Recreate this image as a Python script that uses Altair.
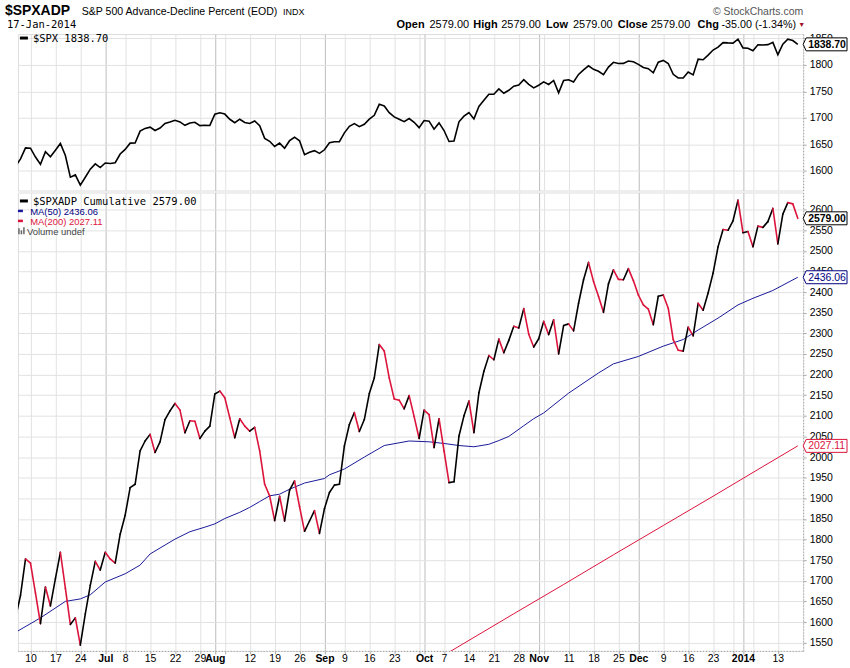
import altair as alt
import pandas as pd

# ---------------- data (trading-day index 0 = 5 Jun 2013 ... 157 = 17 Jan 2014) -------------
spx = [1608.90, 1622.56, 1643.38, 1642.81, 1626.13, 1612.52, 1636.36, 1626.73, 1639.04, 1651.81,
       1628.93, 1588.19, 1592.43, 1573.09, 1588.03, 1603.26, 1613.20, 1606.28,
       1614.96, 1614.08, 1615.41, 1631.89, 1640.46, 1652.32, 1652.62, 1675.02, 1680.19, 1682.50,
       1676.26, 1680.91, 1689.37, 1692.09, 1695.53, 1692.39, 1685.94, 1690.25, 1691.65, 1685.33,
       1685.96, 1685.73,
       1706.87, 1709.67, 1707.14, 1697.37, 1690.91, 1697.48, 1691.42, 1689.47, 1694.16, 1685.39,
       1661.32, 1655.83, 1646.06, 1652.35, 1642.80, 1656.96, 1663.50, 1656.78, 1630.48, 1634.96,
       1638.17, 1632.97,
       1639.77, 1653.08, 1655.08, 1655.17, 1671.71, 1683.99, 1689.13, 1683.42, 1687.99, 1697.60,
       1704.76, 1725.52, 1722.34, 1709.91, 1701.84, 1697.42, 1692.77, 1698.67, 1691.75, 1681.55,
       1695.00, 1693.87, 1678.66, 1690.50, 1676.12, 1655.45, 1656.40, 1692.56, 1703.20, 1710.14,
       1698.06, 1721.54, 1733.15, 1744.50, 1744.66, 1754.67, 1746.38, 1752.07, 1759.77, 1762.11,
       1771.95, 1763.31, 1756.54,
       1761.64, 1767.93, 1762.97, 1770.49, 1747.15, 1770.61, 1771.89, 1767.69, 1782.00, 1790.62,
       1798.18, 1791.53, 1787.87, 1781.37, 1795.85, 1804.76, 1802.48, 1802.75, 1807.23, 1805.81,
       1800.90, 1795.15, 1792.81, 1785.03, 1805.09, 1808.37, 1802.62, 1782.22, 1775.50, 1775.32,
       1786.54, 1781.00, 1810.65, 1809.60, 1818.32, 1827.99, 1833.32, 1842.02, 1841.40, 1841.07,
       1848.36,
       1831.98, 1831.37, 1826.77, 1837.88, 1837.49, 1838.13, 1842.37, 1819.20, 1838.88, 1848.38,
       1845.89, 1838.70]

adp = [1610, 1665, 1753, 1743, 1670, 1596, 1685, 1639, 1705, 1769,
       1682, 1594, 1610, 1544, 1620, 1689, 1747, 1726, 1769, 1753,
       1743, 1813, 1859, 1926, 1934, 2015, 2039, 2055, 2011, 2037,
       2091, 2112, 2130, 2114, 2059, 2088, 2087, 2045, 2063, 2075,
       2153, 2160, 2144, 2095, 2047, 2093, 2075, 2063, 2072, 2015,
       1934, 1906, 1846, 1905, 1845, 1920, 1942, 1880, 1820, 1845,
       1870, 1815, 1875, 1914, 1932, 1934, 2027, 2079, 2108, 2062,
       2091, 2154, 2192, 2273, 2257, 2192, 2141, 2138, 2117, 2149,
       2098, 2045, 2114, 2103, 2023, 2093, 2015, 1938, 1940, 2051,
       2100, 2136, 2059, 2156, 2208, 2246, 2236, 2286, 2253, 2283,
       2317, 2313, 2360, 2298, 2267, 2287, 2329, 2297, 2333, 2250,
       2319, 2323, 2306, 2373, 2430, 2472, 2426, 2390, 2351, 2420,
       2454, 2431, 2430, 2457, 2428, 2393, 2369, 2359, 2321, 2390,
       2393, 2361, 2285, 2259, 2257, 2315, 2294, 2373, 2356, 2398,
       2446, 2510, 2552, 2550, 2573, 2623, 2544, 2547, 2510, 2560,
       2557, 2571, 2603, 2517, 2589, 2617, 2614, 2579]

ma50_i = [0, 5, 10, 13, 15, 18, 22, 25, 27, 32, 35, 38, 40, 42, 45, 47, 49, 51, 53, 55, 58,
          62, 63, 66, 70, 74, 79, 83, 86, 89, 92, 95, 97, 99, 102, 104, 106, 111, 117, 120,
          125, 130, 134, 137, 141, 145, 148, 152, 157]
ma50_v = [1575, 1610, 1650, 1656, 1666, 1697, 1717, 1738, 1765, 1801, 1819, 1830, 1838, 1851,
          1866, 1878, 1892, 1906, 1910, 1922, 1937, 1948, 1957, 1971, 2000, 2028, 2039, 2037,
          2033, 2028, 2025, 2031, 2040, 2050, 2076, 2093, 2107, 2155, 2204, 2226, 2244, 2269,
          2285, 2308, 2337, 2369, 2385, 2404, 2436.06]

ma200_i = [80, 88, 100, 110, 120, 130, 140, 150, 157]
ma200_v = [1477, 1534, 1620, 1691, 1763, 1834, 1905, 1977, 2027.11]

tick_i = [3, 8, 13, 18, 22, 27, 32, 37, 40, 42, 47, 52, 57, 62, 66, 71, 76, 81, 82, 86, 91, 96,
          101, 105, 106, 111, 116, 121, 125, 130, 135, 140, 144, 146, 148, 153]
tick_lbl = ["10", "17", "24", "Jul", "8", "15", "22", "29", "Aug", "", "12", "19", "26", "Sep",
            "9", "16", "23", "", "Oct", "7", "14", "21", "28", "Nov", "", "11", "18", "25", "Dec",
            "9", "16", "23", "", "2014", "", "13"]
month_i = [18, 40, 62, 82, 105, 125, 146]

top_ticks = [1600, 1650, 1700, 1750, 1800, 1850]
bot_ticks = [1550, 1600, 1650, 1700, 1750, 1800, 1850, 1900, 1950, 2000, 2050, 2100, 2150,
             2200, 2250, 2300, 2350, 2400, 2450, 2500, 2550, 2600]

# ---------------- layout constants ----------------
W = 788
H1 = 157
H2 = 460
RED = "#dc143c"
NAVY = "#1a1a9a"
FONT = "Liberation Sans"
MONO = "DejaVu Sans Mono"

n = len(adp)
idx = list(range(n))
df_spx = pd.DataFrame({"i": idx, "v": spx})
seg = pd.DataFrame({"i0": idx[:-1], "v0": adp[:-1], "i1": idx[1:], "v1": adp[1:]})
seg["dir"] = ["up" if b >= a else "down" for a, b in zip(adp[:-1], adp[1:])]
df_ma50 = pd.DataFrame({"i": ma50_i, "v": ma50_v})
df_ma200 = pd.DataFrame({"i": ma200_i, "v": ma200_v})
one = pd.DataFrame({"a": [0]})

xs = alt.Scale(domain=[0.48, 158.08], nice=False, zero=False)
ys_top = alt.Scale(domain=[1563, 1858.1], nice=False, zero=False)
ys_bot = alt.Scale(domain=[1530, 2641.6], nice=False, zero=False)

month_test = f"indexof({month_i}, datum.value) >= 0"
grid_cond = {"condition": {"test": month_test, "value": "#bdbdbd"}, "value": "#e2e2e2"}
label_expr = (f"indexof({tick_i}, datum.value) >= 0 ? "
              f"{tick_lbl}[indexof({tick_i}, datum.value)] : ''")

xaxis_top = alt.Axis(values=tick_i, grid=True, gridColor=grid_cond, labels=False, ticks=False,
                     domain=False, title=None)
xaxis_bot = alt.Axis(values=tick_i, grid=True, gridColor=grid_cond, labelExpr=label_expr,
                     labelOverlap=False, labelFlush=False, labelFont=FONT, labelFontSize=10.5,
                     labelColor="#000",
                     labelFontWeight={"condition": {"test": month_test, "value": "bold"},
                                      "value": "normal"},
                     ticks=True, tickSize=3, tickColor="#aaa", domain=True, domainColor="#999",
                     domainDash=[1, 2], labelPadding=0, title=None)


def yaxis(vals):
    return alt.Axis(values=vals, orient="right", grid=True, gridColor="#e2e2e2", title=None,
                    format="d", labelFont=FONT, labelFontSize=10.5, labelColor="#000",
                    ticks=True, tickSize=3, tickColor="#aaa", domain=True, domainColor="#999",
                    domainDash=[1, 2], labelPadding=3, labelOverlap=False, labelFlush=False)


yaxis_top = yaxis(top_ticks)
yaxis_bot = yaxis(bot_ticks)


def txt(s, x, y, size=11, weight="normal", color="#000", font=FONT, align="left"):
    return alt.Chart(one).mark_text(text=s, fontSize=size, fontWeight=weight, color=color,
                                    font=font, align=align, baseline="alphabetic").encode(
        x=alt.value(x), y=alt.value(y))


def dash(x1, x2, y, color, sw):
    return alt.Chart(one).mark_rule(color=color, strokeWidth=sw).encode(
        x=alt.value(x1), x2=alt.value(x2), y=alt.value(y))


BOX = "M0,0L3,-6.5L44,-6.5L44,6.5L3,6.5Z"


def box(v, label, color, weight, ys, yax):
    d = pd.DataFrame({"v": [v], "t": [label]})
    p = alt.Chart(d).mark_point(shape=BOX, size=4, filled=True, fill="white", stroke=color,
                                strokeWidth=1, opacity=1).encode(
        x=alt.value(W), y=alt.Y("v:Q", scale=ys, axis=yax))
    t = alt.Chart(d).mark_text(align="left", baseline="middle", fontSize=10.5, fontWeight=weight,
                               color=color, font=FONT, dy=0.5).encode(
        x=alt.value(W + 5), y=alt.Y("v:Q", scale=ys, axis=yax), text="t:N")
    return [p, t]


# ---------------- top panel ----------------
spx_line = alt.Chart(df_spx).mark_line(color="#000", strokeWidth=1.6, clip=True).encode(
    x=alt.X("i:Q", scale=xs, axis=xaxis_top),
    y=alt.Y("v:Q", scale=ys_top, axis=yaxis_top))

anchor = alt.Chart(one).mark_rule(strokeWidth=0, opacity=0).encode(
    x=alt.value(-17), x2=alt.value(-16), y=alt.value(-32), y2=alt.value(-32))

header = [
    txt("$SPXADP", -13, -18.7, size=14, weight="bold"),
    txt("S&P 500 Advance-Decline Percent (EOD)", 64, -18.7, size=10.6),
    txt("INDX", 266, -18.7, size=9),
    txt("17-Jan-2014", -11, -6, size=10.5, font=MONO),
    txt("© StockCharts.com", 788, -18.7, size=10.5, color="#555", align="right"),
    txt("Open", 380, -6, weight="bold"),
    txt("2579.00", 413, -6),
    txt("High", 457, -6, weight="bold"),
    txt("2579.00", 485, -6),
    txt("Low", 530, -6, weight="bold"),
    txt("2579.00", 557, -6),
    txt("Close", 602, -6, weight="bold"),
    txt("2579.00", 635, -6),
    txt("Chg", 682, -6, weight="bold"),
    txt("-35.00 (-1.34%)", 706, -6, size=10.8),
    txt("▼", 786.5, -7, size=7, color="#a0102a", align="center"),
]

top_legend = [
    dash(2, 10, 4, "#000", 3),
    txt(f"$SPX {spx[-1]:.2f}", 15, 8, size=10.5, font=MONO),
]

top = alt.layer(spx_line, anchor, *header, *top_legend,
                *box(spx[-1], f"{spx[-1]:.2f}", "#000", "bold", ys_top, yaxis_top)
                ).properties(width=W, height=H1)

# ---------------- bottom panel ----------------
ma200_line = alt.Chart(df_ma200).mark_line(color=RED, strokeWidth=1, clip=True).encode(
    x=alt.X("i:Q", scale=xs, axis=xaxis_bot),
    y=alt.Y("v:Q", scale=ys_bot, axis=yaxis_bot))
ma50_line = alt.Chart(df_ma50).mark_line(color=NAVY, strokeWidth=1, clip=True).encode(
    x=alt.X("i:Q", scale=xs, axis=xaxis_bot),
    y=alt.Y("v:Q", scale=ys_bot, axis=yaxis_bot))
adp_segs = alt.Chart(seg).mark_rule(strokeWidth=1.6, strokeCap="round", clip=True).encode(
    x=alt.X("i0:Q", scale=xs, axis=xaxis_bot), x2="i1:Q",
    y=alt.Y("v0:Q", scale=ys_bot, axis=yaxis_bot), y2="v1:Q",
    color=alt.Color("dir:N", scale=alt.Scale(domain=["up", "down"], range=["#000000", RED]),
                    legend=None))

bot_legend = [
    dash(2, 10, 8.5, "#000", 3),
    txt(f"$SPXADP Cumulative {adp[-1]:.2f}", 15, 12.7, size=10.5, font=MONO),
    dash(0, 5, 18.5, NAVY, 2.5),
    txt(f"MA(50) {ma50_v[-1]:.2f}", 12.3, 22.7, size=9.5, color="#000080"),
    dash(0, 5, 28.5, RED, 2.5),
    txt(f"MA(200) {ma200_v[-1]:.2f}", 12.3, 32.7, size=9.5, color=RED),
    alt.Chart(one).mark_rule(color="#666", strokeWidth=1.5).encode(
        x=alt.value(1), y=alt.value(36), y2=alt.value(42)),
    alt.Chart(one).mark_rule(color="#666", strokeWidth=1.5).encode(
        x=alt.value(3.5), y=alt.value(38), y2=alt.value(42)),
    alt.Chart(one).mark_rule(color="#666", strokeWidth=1.5).encode(
        x=alt.value(6), y=alt.value(35), y2=alt.value(42)),
    txt("Volume undef", 9, 42.7, size=9.5, color="#444"),
]

bottom = alt.layer(ma200_line, ma50_line, adp_segs, *bot_legend,
                   *box(ma200_v[-1], f"{ma200_v[-1]:.2f}", RED, "normal", ys_bot, yaxis_bot),
                   *box(ma50_v[-1], f"{ma50_v[-1]:.2f}", "#000080", "normal", ys_bot, yaxis_bot),
                   *box(adp[-1], f"{adp[-1]:.2f}", "#000", "bold", ys_bot, yaxis_bot)
                   ).properties(width=W, height=H2)

chart = alt.vconcat(top, bottom, spacing=0).properties(
    padding={"left": 0, "top": 0, "right": 0, "bottom": 0}
).configure_view(stroke="#c8c8c8", strokeWidth=1).configure(background="white")

chart.save("out.html", embed_options={"renderer": "svg", "actions": False})
